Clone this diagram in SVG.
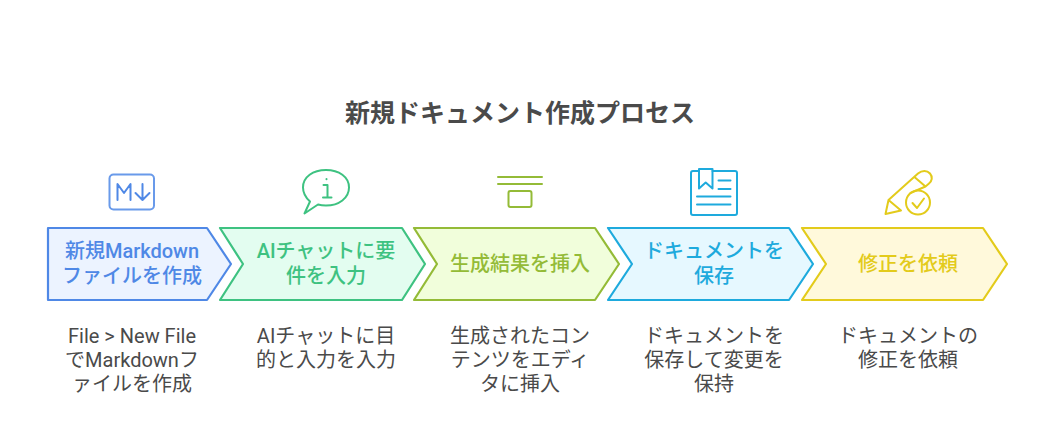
<svg xmlns="http://www.w3.org/2000/svg" width="1040" height="444" viewBox="0 0 1040 444">
<style>
text{font-family:Roboto,"Noto Sans CJK JP","Noto Sans",sans-serif;text-anchor:middle}
.t{font-size:25px;font-weight:700;fill:#4a4a4a}
.l{font-size:20px;font-weight:500}
.d{font-size:20px;fill:#4a4a4a}
.s{stroke-width:2.2;stroke-linejoin:round}
.i{fill:none;stroke-width:2;stroke-linecap:round;stroke-linejoin:round}
</style>
<rect width="1040" height="444" fill="#fff"/>
<text id="title" class="t" x="520" y="122">新規ドキュメント作成プロセス</text>
<g id="connectors"/>
<g id="n1">
<path class="s" d="M48 228H207L231 264L207 300H48Z" fill="#ecf3ff" stroke="#4f88e6"/>
<text class="l" fill="#4f88e6" x="132" y="258">新規Markdown</text>
<text class="l" fill="#4f88e6" x="132" y="283">ファイルを作成</text>
<g class="i" stroke="#4f88e6"><rect x="109.500" y="174.500" width="44.500" height="35" rx="4" opacity=".85"/><path d="M117.500 200V184L124 193L130.500 184V200M142.500 184V200M135.500 193L142.500 200L149.500 193"/></g>
<text class="d" x="132" y="343">File &gt; New File</text>
<text class="d" x="132" y="367">でMarkdownフ</text>
<text class="d" x="132" y="391">ァイルを作成</text>
</g>
<g id="n2">
<path class="s" d="M220 228H402L425 264L402 300H220L243 264Z" fill="#e3fdf0" stroke="#3ec281"/>
<text class="l" fill="#3ec281" x="326" y="258">AIチャットに要</text>
<text class="l" fill="#3ec281" x="326" y="283">件を入力</text>
<g class="i" stroke="#3ec281"><path d="M304.500 213.500L310 201.500C305 197 303 192 303 187.500C303 177 313 170 326 170C339 170 349 177 349 187.500C349 198 339 205.500 326 205.500C323 205.500 320.500 205.200 318 204.500Z"/><path d="M323.500 185H327.500V197.500M323 197.500H331.500M326.500 179V179.300"/></g>
<text class="d" x="326" y="343">AIチャットに目</text>
<text class="d" x="326" y="367">的と入力を入力</text>
</g>
<g id="n3">
<path class="s" d="M414 228H595L619 264L595 300H414L437 264Z" fill="#f1fedb" stroke="#94bb37"/>
<text class="l" fill="#94bb37" x="520" y="271">生成結果を挿入</text>
<g class="i" stroke="#94bb37"><path d="M498 177H542M498 184H542"/><rect x="508.500" y="191" width="23" height="16" rx="2"/></g>
<text class="d" x="520" y="343">生成されたコン</text>
<text class="d" x="520" y="367">テンツをエディ</text>
<text class="d" x="520" y="391">タに挿入</text>
</g>
<g id="n4">
<path class="s" d="M608 228H789L813 264L789 300H608L632 264Z" fill="#e6f8ff" stroke="#1eaadd"/>
<text class="l" fill="#1eaadd" x="714" y="258">ドキュメントを</text>
<text class="l" fill="#1eaadd" x="714" y="283">保存</text>
<g class="i" stroke="#1eaadd"><path d="M699 171H693Q691 171 691 173V213Q691 215 693 215H735Q737 215 737 213V173Q737 171 735 171H712.500"/><path d="M699 169H712.500V188.500L705.700 182.500L699 188.500Z"/><path d="M718.500 180.500H730.500M718.500 189H730.500M697 196.500H730.500M697 204.500H730.500"/></g>
<text class="d" x="714" y="343">ドキュメントを</text>
<text class="d" x="714" y="367">保存して変更を</text>
<text class="d" x="714" y="391">保持</text>
</g>
<g id="n5">
<path class="s" d="M802 228H983L1007 264L983 300H802L826 264Z" fill="#fff9db" stroke="#e3cb1b"/>
<text class="l" fill="#e3cb1b" x="908" y="271">修正を依頼</text>
<g class="i" stroke="#e3cb1b"><circle cx="918" cy="202.500" r="12"/><path d="M912.500 203L917 208L924 198.500"/><path d="M885.500 214L888.500 200L918 173.500C922 170 927 170 930 173.500C933 177 932 181 929 183.500L925.500 186.500L910.500 193M885.500 214L901 210.500L888.500 200M915 177.500L925.500 186.500"/></g>
<text class="d" x="908" y="343">ドキュメントの</text>
<text class="d" x="908" y="367">修正を依頼</text>
</g>
</svg>
